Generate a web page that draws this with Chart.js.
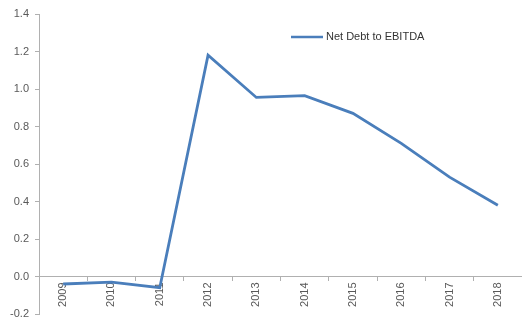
<!DOCTYPE html>
<html><head><meta charset="utf-8">
<script src="https://cdn.jsdelivr.net/npm/chart.js@4.4.1/dist/chart.umd.min.js"></script>
<style>html,body{margin:0;padding:0;background:#fff}#wrap{width:522px;height:322px}</style>
</head><body><div id="wrap"><canvas id="c" width="522" height="322"></canvas></div>
<script>
const years = ['2009','2010','2011','2012','2013','2014','2015','2016','2017','2018'];
const netDebtToEbitda = [-0.04, -0.03, -0.06, 1.18, 0.955, 0.965, 0.87, 0.71, 0.53, 0.38];
const seriesLabel = 'Net Debt to EBITDA';
const yMin = -0.2, yMax = 1.4, yStep = 0.2;

const lineColor = '#4A7EBB';
const textColor = '#595959';
const axisColor = '#B0B0B0';
const fontFam = '"Liberation Sans", Arial, sans-serif';

const legendPlugin = {
  id: 'inlineLegend',
  afterDraw(chart) {
    const ctx = chart.ctx;
    const ds = chart.data.datasets[0];
    ctx.save();
    ctx.strokeStyle = ds.borderColor;
    ctx.lineWidth = 2.5;
    ctx.beginPath();
    ctx.moveTo(291, 37); ctx.lineTo(323, 37);
    ctx.stroke();
    ctx.fillStyle = '#333';
    ctx.font = '11px ' + fontFam;
    ctx.textBaseline = 'middle';
    ctx.fillText(ds.label, 326, 37);
    ctx.restore();
  }
};

new Chart(document.getElementById('c'), {
  type: 'line',
  data: {
    labels: years,
    datasets: [{
      label: seriesLabel,
      data: netDebtToEbitda,
      borderColor: lineColor,
      backgroundColor: lineColor,
      borderWidth: 2.8,
      pointRadius: 0,
      tension: 0,
      fill: false
    }]
  },
  options: {
    responsive: false,
    animation: false,
    layout: { padding: { top: 14, bottom: 8, left: 0, right: 0 } },
    plugins: { legend: { display: false }, tooltip: { enabled: false } },
    scales: {
      x: {
        type: 'category',
        position: { y: 0 },
        offset: true,
        grid: { display: true, drawOnChartArea: false, offset: true, tickLength: 4, color: axisColor },
        border: { display: true, color: axisColor },
        ticks: {
          color: textColor, font: { size: 11, family: fontFam },
          minRotation: 90, maxRotation: 90, padding: 2, autoSkip: false
        }
      },
      y: {
        min: yMin, max: yMax,
        afterFit(scale) { scale.width = 39; scale.paddingTop = 0; scale.paddingBottom = 0; },
        grid: { display: true, drawOnChartArea: false, tickLength: 4, color: axisColor },
        border: { display: true, color: axisColor },
        ticks: {
          stepSize: yStep, color: textColor, font: { size: 11, family: fontFam }, padding: 6,
          callback: v => (Math.round(v * 10) / 10 + 0).toFixed(1)
        }
      }
    }
  },
  plugins: [legendPlugin]
});
</script></body></html>
